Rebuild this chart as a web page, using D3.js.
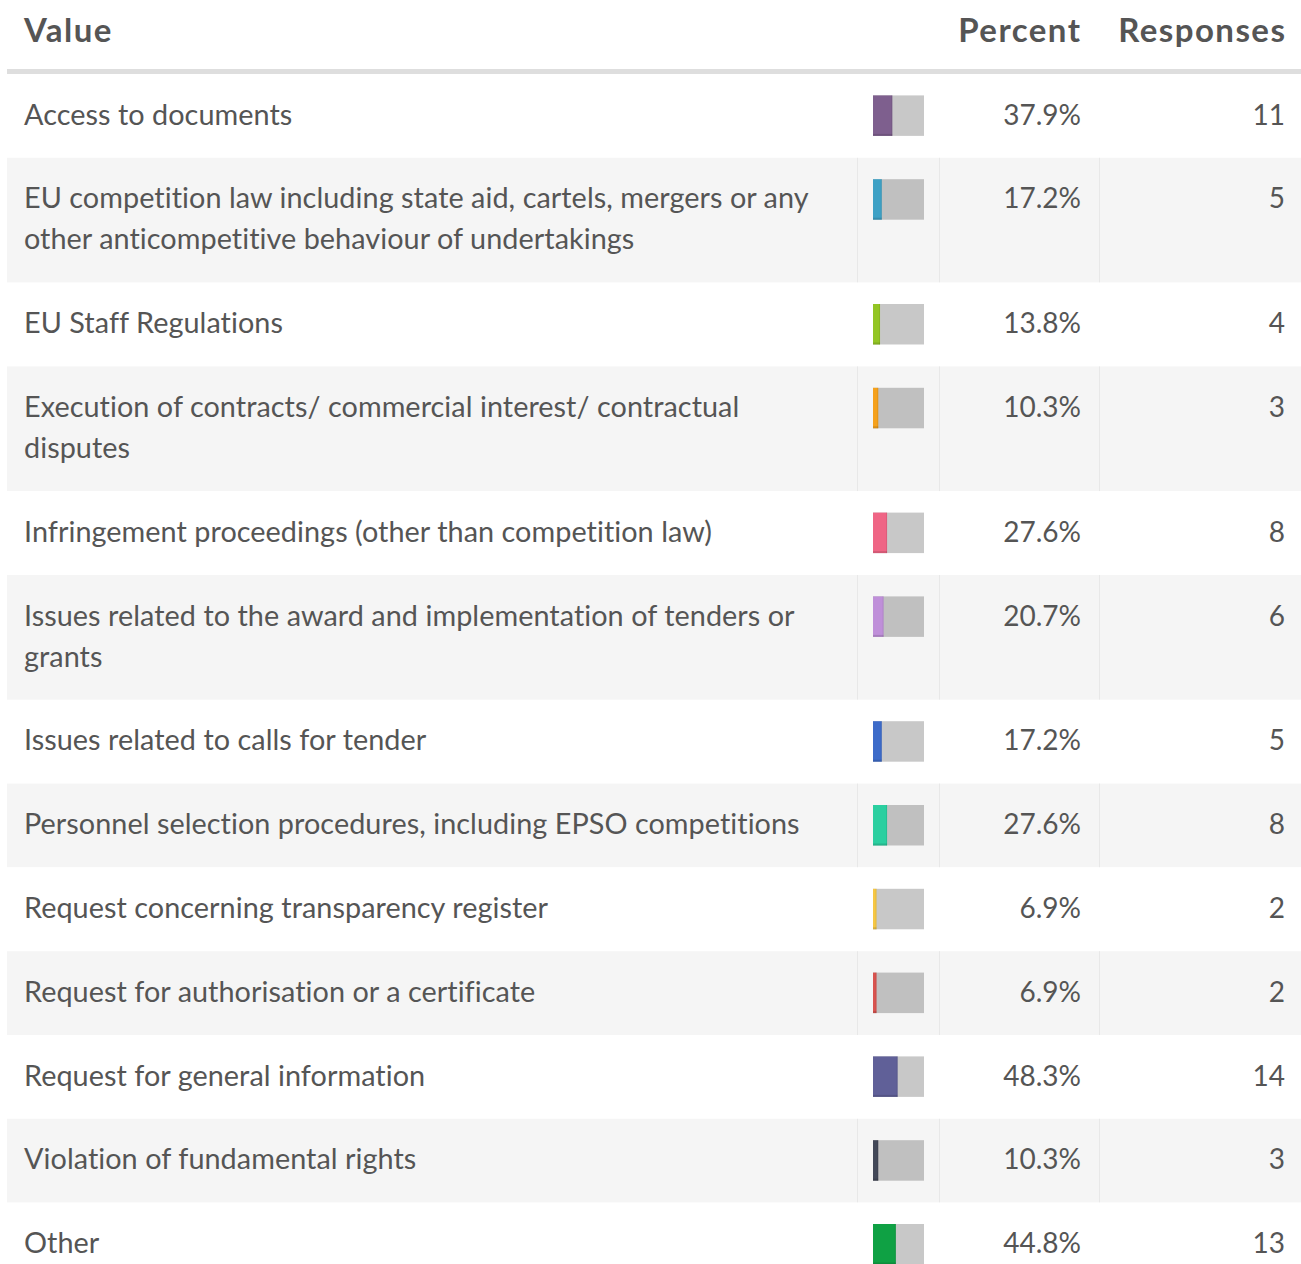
<!DOCTYPE html>
<html>
<head>
<meta charset="utf-8">
<script src="https://cdn.jsdelivr.net/npm/d3@7"></script>
<style>
  html, body { margin: 0; padding: 0; background: #fff; }
  svg { display: block; font-family: Lato, "Open Sans", sans-serif; }
</style>
</head>
<body>
<svg id="chart" width="1301" height="1264"></svg>
<script>
const headers = ["Value", "Percent", "Responses"];
const categories = [
  "Access to documents",
  "EU competition law including state aid, cartels, mergers or any other anticompetitive behaviour of undertakings",
  "EU Staff Regulations",
  "Execution of contracts/ commercial interest/ contractual disputes",
  "Infringement proceedings (other than competition law)",
  "Issues related to the award and implementation of tenders or grants",
  "Issues related to calls for tender",
  "Personnel selection procedures, including EPSO competitions",
  "Request concerning transparency register",
  "Request for authorisation or a certificate",
  "Request for general information",
  "Violation of fundamental rights",
  "Other"
];
const percents = [37.9, 17.2, 13.8, 10.3, 27.6, 20.7, 17.2, 27.6, 6.9, 6.9, 48.3, 10.3, 44.8];
const responses = [11, 5, 4, 3, 8, 6, 5, 8, 2, 2, 14, 3, 13];
const colors = ["#7e5f8e", "#3ea1c5", "#93c524", "#f5a11c", "#ef6585", "#bf8fd9", "#3d6bc9",
                "#2bcfa0", "#f6c744", "#d9534f", "#606098", "#424858", "#0fa144"];

const W = 1301;
const svg = d3.select("#chart");
const textColor = "#555";
const fontSize = 28.8;
const numSize = 28;
const labelLS = 0.05;
const lineH = 41;
const pad = 21.4;
const labelX = 24;
const wrapWidth = 805;
const headerBottom = 74;

// Header
svg.append("rect").attr("x", 7).attr("y", 69).attr("width", W - 7).attr("height", 5).attr("fill", "#dedede");
const hdr = svg.append("g").attr("font-weight", 700).attr("font-size", 33).attr("fill", textColor)
  .attr("letter-spacing", 1.45);
hdr.append("text").attr("x", labelX).attr("y", 41.5).text(headers[0]);
hdr.append("text").attr("x", 1081.4).attr("y", 41.5).attr("text-anchor", "end").text(headers[1]);
hdr.append("text").attr("x", 1286.4).attr("y", 41.5).attr("text-anchor", "end").text(headers[2]);

// measure wrapping (width without spacing + explicit spacing per char)
const meas = svg.append("text").attr("font-size", fontSize).attr("visibility", "hidden");
function textW(s) { meas.text(s); return meas.node().getComputedTextLength() + s.length * labelLS; }
function wrap(str) {
  const words = str.split(" ");
  const lines = [];
  let cur = "";
  words.forEach(w => {
    const test = cur ? cur + " " + w : w;
    if (textW(test) > wrapWidth && cur) {
      lines.push(cur);
      cur = w;
    } else cur = test;
  });
  if (cur) lines.push(cur);
  return lines;
}
const rows = categories.map((c, i) => ({label: c, lines: wrap(c), pct: percents[i], resp: responses[i], color: colors[i], i}));
meas.remove();
let y = headerBottom;
rows.forEach(r => { r.y = y; r.h = pad * 2 + r.lines.length * lineH; y += r.h; });

const barX = 873, barW = 51, barH = 40.5;
const xs = d3.scaleLinear().domain([0, 100]).range([0, barW]);
const fmt = d => d3.format(".1f")(d) + "%";

const g = svg.selectAll("g.row").data(rows).join("g").attr("class", "row")
  .attr("transform", d => `translate(0,${d.y})`);

g.append("rect").attr("x", 7).attr("y", 0).attr("width", W - 7).attr("height", d => d.h)
  .attr("fill", d => d.i % 2 ? "#f5f5f5" : "#fff");

// cell borders on striped rows
[857, 939, 1099].forEach(bx => {
  g.filter(d => d.i % 2).append("rect").attr("x", bx).attr("y", 0).attr("width", 1).attr("height", d => d.h).attr("fill", "#e8e8e8");
});

g.each(function(d) {
  const t = d3.select(this).append("text").attr("font-size", fontSize).attr("fill", textColor)
    .attr("letter-spacing", labelLS);
  d.lines.forEach((ln, k) => {
    t.append("tspan").attr("x", labelX).attr("y", pad + 29.2 + k * lineH).text(ln);
  });
});

g.append("rect").attr("x", barX).attr("y", pad).attr("width", barW).attr("height", barH)
  .attr("fill", "rgba(0,0,0,0.216)");
g.append("rect").attr("x", barX).attr("y", pad).attr("width", d => xs(d.pct)).attr("height", barH)
  .attr("fill", d => d.color);
g.append("rect").attr("x", barX).attr("y", pad + barH - 2).attr("width", d => xs(d.pct)).attr("height", 2)
  .attr("fill", "rgba(0,0,0,0.12)");
g.append("rect").attr("x", d => barX + xs(d.pct) - 1).attr("y", pad).attr("width", 1).attr("height", barH)
  .attr("fill", "rgba(0,0,0,0.08)");

g.append("text").attr("x", 1081).attr("y", pad + 29.2).attr("text-anchor", "end")
  .attr("font-size", numSize).attr("fill", textColor).text(d => fmt(d.pct));
g.append("text").attr("x", 1285).attr("y", pad + 29.2).attr("text-anchor", "end")
  .attr("font-size", numSize).attr("fill", textColor).text(d => d.resp);
</script>
</body>
</html>
